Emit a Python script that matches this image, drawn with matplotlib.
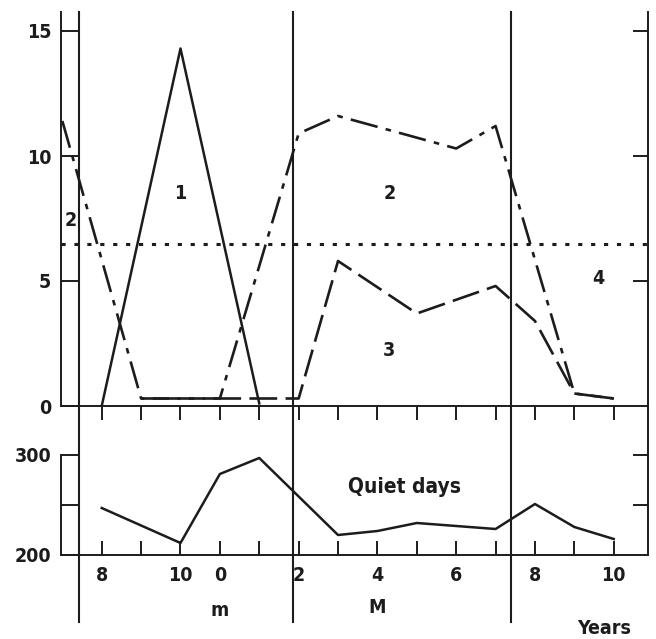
import matplotlib
matplotlib.use("Agg")
import matplotlib.pyplot as plt
import numpy as np

# --- data (x = year index, 0 = first "8")
x_curve1 = [0, 2, 4]
y_curve1 = [0.0, 14.3, 0.1]

x_curve2 = [-1, 1, 2, 3, 5, 6, 9, 10, 12, 13]
y_curve2 = [11.4, 0.3, 0.3, 0.3, 10.9, 11.6, 10.3, 11.2, 0.5, 0.3]

x_curve3 = [1, 2, 3, 4, 5, 6, 8, 10, 11, 12, 13]
y_curve3 = [0.3, 0.3, 0.3, 0.3, 0.3, 5.8, 3.7, 4.8, 3.4, 0.5, 0.3]

level_dotted = 6.5

x_quiet = [0, 2, 3, 4, 6, 7, 8, 10, 11, 12, 13]
y_quiet = [247, 212, 281, 297, 220, 224, 232, 226, 251, 228, 216]

year_ticks = list(range(0, 14))
year_label_pos = [0, 2, 3, 5, 7, 9, 11, 13]
year_labels = ["8", "10", "0", "2", "4", "6", "8", "10"]

phase_lines = [-0.58, 4.85, 10.38]

area_labels = [(2.0, 8.5, "1"), (-0.8, 7.4, "2"), (7.3, 8.5, "2"),
               (7.3, 2.2, "3"), (12.6, 5.1, "4")]

ink = "#1c1c1c"
plt.rcParams["font.family"] = ["DejaVu Sans"]
plt.rcParams["font.stretch"] = "condensed"
plt.rcParams["font.weight"] = "bold"
plt.rcParams["lines.scale_dashes"] = False
plt.rcParams["axes.edgecolor"] = ink
plt.rcParams["xtick.color"] = ink
plt.rcParams["ytick.color"] = ink
plt.rcParams["text.color"] = ink

W, H = 656, 639
fig = plt.figure(figsize=(W / 100, H / 100), dpi=100)

left, right = 61 / W, 648 / W
ax1 = fig.add_axes([left, 1 - 406 / H, right - left, (406 - 12) / H])
ax2 = fig.add_axes([left, 1 - 555 / H, right - left, (555 - 406) / H])
ax2.patch.set_visible(False)

xlim = (-1.034, 13.87)

# --- top panel
ax1.plot(x_curve1, y_curve1, color=ink, lw=1.8)
ax1.plot(x_curve2, y_curve2, color=ink, lw=1.9, dashes=(20, 6, 4, 6))
ax1.plot(x_curve3, y_curve3, color=ink, lw=1.9, dashes=(20, 6))
ax1.axhline(level_dotted, color=ink, lw=2.2, dashes=(3, 6.3))
ax1.set_xlim(xlim)
ax1.set_ylim(0, 15.76)
ax1.set_yticks([0, 5, 10, 15])
ax1.set_xticks(year_ticks)
ax1.tick_params(axis="x", direction="out", length=10, width=1.4, labelbottom=False)
ax1.tick_params(axis="y", direction="in", length=13, width=1.4, labelsize=14, pad=7)
ax1.spines["top"].set_visible(False)
for s in ["left", "right", "bottom"]:
    ax1.spines[s].set_linewidth(1.4)

ax1r = ax1.twinx()
ax1r.set_ylim(ax1.get_ylim())
ax1r.set_yticks([5, 10, 15])
ax1r.tick_params(axis="y", direction="in", length=11, width=1.4, labelright=False)
for s in ax1r.spines.values():
    s.set_visible(False)

for xt, yt, t in area_labels:
    ax1.text(xt, yt, t, ha="center", va="center", fontsize=14)

# --- bottom panel
ax2.plot(x_quiet, y_quiet, color=ink, lw=1.8)
ax2.set_xlim(xlim)
ax2.set_ylim(200, 349)
ax2.set_yticks([200, 250, 300])
ax2.set_yticklabels(["200", "", "300"])
ax2.set_xticks(year_ticks)
ax2.set_xticklabels([year_labels[year_label_pos.index(i)] if i in year_label_pos else ""
                     for i in year_ticks])
ax2.tick_params(axis="x", direction="in", length=10, width=1.4, labelsize=14, pad=8)
ax2.tick_params(axis="y", direction="in", length=13, width=1.4, labelsize=14, pad=7)
ax2.spines["top"].set_visible(False)
ax2.spines["left"].set_bounds(200, 300)
for s in ["left", "right", "bottom"]:
    ax2.spines[s].set_linewidth(1.4)

ax2r = ax2.twinx()
ax2r.set_ylim(ax2.get_ylim())
ax2r.set_yticks([250, 300])
ax2r.tick_params(axis="y", direction="in", length=11, width=1.4, labelright=False)
for s in ax2r.spines.values():
    s.set_visible(False)

ax2.text(7.7, 268, "Quiet days", ha="center", va="center", fontsize=15)
ax2.text(3, -0.37, "m", transform=ax2.get_xaxis_transform(), ha="center", va="center", fontsize=14)
ax2.text(7, -0.35, "M", transform=ax2.get_xaxis_transform(), ha="center", va="center", fontsize=14)
ax2.text(12.75, -0.49, "Years", transform=ax2.get_xaxis_transform(), ha="center", va="center", fontsize=14)

# --- phase separators through both panels
for xv in phase_lines:
    ax1.axvline(xv, ymin=(406 - 622) / 394, ymax=1.0, color=ink, lw=1.5, clip_on=False)

fig.savefig("out.png", dpi=100)
